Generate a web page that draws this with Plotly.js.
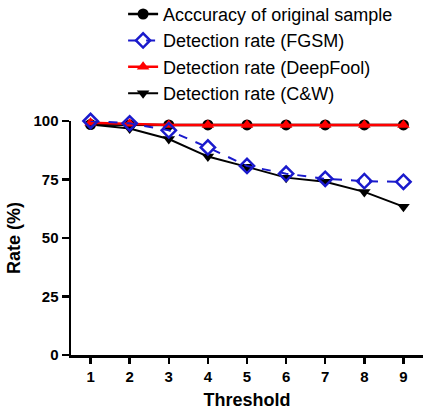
<!DOCTYPE html>
<html>
<head>
<meta charset="utf-8">
<script src="https://cdn.plot.ly/plotly-3.0.1.min.js"></script>
<style>html,body{margin:0;padding:0;background:#fff;}#chart{width:423px;height:412px;}</style>
</head>
<body>
<div id="chart"></div>
<script>
var thresholds = [1, 2, 3, 4, 5, 6, 7, 8, 9];
var originalAccuracy = [98.5, 98.3, 98.3, 98.3, 98.3, 98.3, 98.3, 98.3, 98.3];
var fgsmRate = [100, 99, 96, 88.7, 80.8, 77.5, 75.3, 74.3, 74];
var deepfoolRate = [99.3, 98.8, 98.3, 98.3, 98.3, 98.3, 98.3, 98.3, 98.3];
var cwRate = [98.5, 96.8, 92.3, 84.8, 80.4, 75.8, 74, 69.7, 63.4];
var yTicks = [0, 25, 50, 75, 100];

var traces = [
  {x: thresholds, y: originalAccuracy, name: 'Acccuracy of original sample', type: 'scatter', mode: 'lines+markers',
   line: {color: '#000000', width: 2.5}, marker: {symbol: 'circle', size: 11, color: '#000000'},
   legendrank: 1, legendgroup: 'a', cliponaxis: false},
  {x: thresholds, y: cwRate, name: 'Detection rate (C&W)', type: 'scatter', mode: 'lines+markers',
   line: {color: '#000000', width: 2}, marker: {symbol: 'triangle-down', size: 11, color: '#000000'},
   legendrank: 4, legendgroup: 'd', cliponaxis: false},
  {x: thresholds, y: deepfoolRate, name: 'Detection rate (DeepFool)', type: 'scatter', mode: 'lines+markers',
   line: {color: '#ff0000', width: 2.5}, marker: {symbol: 'triangle-up', size: 11, color: '#ff0000'},
   legendrank: 3, legendgroup: 'c', cliponaxis: false},
  {x: thresholds, y: fgsmRate, name: 'Detection rate (FGSM)', type: 'scatter', mode: 'lines+markers',
   line: {color: '#1a1acc', width: 2, dash: 'dash'},
   marker: {symbol: 'diamond-open', size: 11, color: '#1a1acc', line: {width: 2.5, color: '#1a1acc'}},
   legendrank: 2, legendgroup: 'b', cliponaxis: false}
];

var layout = {
  width: 423, height: 412,
  margin: {l: 71, r: 0, t: 121, b: 57, autoexpand: false},
  paper_bgcolor: '#ffffff', plot_bgcolor: '#ffffff',
  font: {family: 'Liberation Sans, Arial, sans-serif', color: '#000000'},
  showlegend: true,
  legend: {x: 0.148, xanchor: 'left', y: 1.535, yanchor: 'top', bgcolor: 'rgba(0,0,0,0)',
           font: {size: 18, color: '#000000'}, tracegroupgap: 0, traceorder: 'grouped'},
  xaxis: {
    range: [0.5, 9.5], tickvals: thresholds, ticktext: thresholds.map(String),
    showgrid: false, zeroline: false, showline: true, linecolor: '#000000', linewidth: 2.5,
    ticks: 'outside', ticklen: 6, tickwidth: 2.5, tickcolor: '#000000',
    tickfont: {size: 15, family: 'Liberation Sans, Arial, sans-serif', weight: 'bold'},
    title: {text: '<b>Threshold</b>', font: {size: 18}, standoff: 10}
  },
  yaxis: {
    range: [0, 100], tickvals: yTicks, ticktext: yTicks.map(String),
    showgrid: false, zeroline: false, showline: true, linecolor: '#000000', linewidth: 2.5,
    ticks: 'outside', ticklen: 7, tickwidth: 2.5, tickcolor: '#000000',
    tickfont: {size: 15, family: 'Liberation Sans, Arial, sans-serif', weight: 'bold'},
    title: {text: '<b>Rate (%)</b>', font: {size: 18}, standoff: 8}
  }
};

Plotly.newPlot('chart', traces, layout, {displayModeBar: false, staticPlot: true});
</script>
</body>
</html>
